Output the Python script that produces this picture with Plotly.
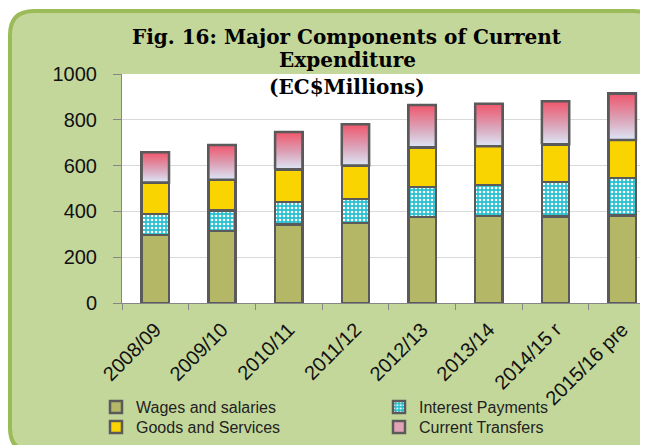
import plotly.graph_objects as go

categories = ["2008/09", "2009/10", "2010/11", "2011/12", "2012/13", "2013/14", "2014/15 r", "2015/16 pre"]
wages = [298, 314, 343, 350, 376, 381, 378, 382]
interest = [91, 89, 99, 105, 130, 135, 151, 163]
goods = [137, 135, 142, 145, 174, 169, 164, 167]
transfers = [132, 152, 163, 181, 185, 185, 188, 202]

# page body has an 8px margin: size the figure so it fits the 648x445 window
OFF = 8
W, H = 648 - OFF, 445 - OFF
ML, MT = 122 - OFF, 74 - OFF
PW, PH = W - ML, 229
MB = H - MT - PH

def fx(px):  # page pixel -> paper x
    return (px - OFF - ML) / PW

def fy(py):  # page pixel -> paper y
    return (MT + PH - (py - OFF)) / PH

x = list(range(len(categories)))
bar_w = 0.41
outline = dict(color="#5a5a5a", width=2.5)
font_sans = "Liberation Sans, Arial, sans-serif"

fig = go.Figure()
fig.add_trace(go.Bar(name="Wages and salaries", x=x, y=wages, width=bar_w, legend="legend",
                     marker=dict(color="#b3b766", line=outline)))
fig.add_trace(go.Bar(name="Interest Payments", x=x, y=interest, width=bar_w, legend="legend",
                     marker=dict(color="#27c0cf", line=outline,
                                 pattern=dict(shape=".", fillmode="replace", bgcolor="#27c0cf",
                                              fgcolor="#ffffff", size=4, solidity=0.35))))
fig.add_trace(go.Bar(name="Goods and Services", x=x, y=goods, width=bar_w, legend="legend2",
                     marker=dict(color="#fad400", line=outline)))
fig.add_trace(go.Bar(name="Current Transfers", x=x, y=transfers, width=bar_w, legend="legend2",
                     marker=dict(color="#e2a3b6", line=outline)))

# gradient overlay for the Current Transfers segments
for i in x:
    base = wages[i] + interest[i] + goods[i]
    top = base + transfers[i]
    fig.add_trace(go.Scatter(
        x=[i - bar_w / 2, i + bar_w / 2, i + bar_w / 2, i - bar_w / 2, i - bar_w / 2],
        y=[base, base, top, top, base],
        mode="lines", fill="toself",
        fillgradient=dict(type="vertical",
                          colorscale=[[0, "#dce6f7"], [0.45, "#dba3b8"], [1, "#f0566c"]]),
        line=outline, showlegend=False, hoverinfo="skip"))

# rounded frame (page pixel positions)
L, T, R, B, r = 10, 11, 657, 452, 24
path = (f"M{fx(L + r)},{fy(T)} L{fx(R - r)},{fy(T)} Q{fx(R)},{fy(T)} {fx(R)},{fy(T + r)} "
        f"L{fx(R)},{fy(B - r)} Q{fx(R)},{fy(B)} {fx(R - r)},{fy(B)} "
        f"L{fx(L + r)},{fy(B)} Q{fx(L)},{fy(B)} {fx(L)},{fy(B - r)} "
        f"L{fx(L)},{fy(T + r)} Q{fx(L)},{fy(T)} {fx(L + r)},{fy(T)} Z")
shapes = [
    dict(type="path", path=path, xref="paper", yref="paper", layer="below",
         fillcolor="#c4d79b", line=dict(color="#9bbb59", width=4)),
    dict(type="rect", xref="paper", yref="paper", x0=0, x1=1, y0=0, y1=1, layer="below",
         fillcolor="#ffffff", line=dict(width=0)),
]

title_font = dict(family="DejaVu Serif, serif", size=20, color="#000000")
annotations = [
    dict(text="<b>Fig. 16: Major Components of Current</b>", x=fx(347), y=fy(37)),
    dict(text="<b>Expenditure</b>", x=fx(347), y=fy(60)),
    dict(text="<b>(EC$Millions)</b>", x=fx(347), y=fy(87)),
]
for a in annotations:
    a.update(xref="paper", yref="paper", xanchor="center", yanchor="middle",
             showarrow=False, font=title_font)

legend_style = dict(orientation="h", xanchor="left", yanchor="middle", entrywidth=238,
                    bgcolor="rgba(0,0,0,0)", traceorder="normal",
                    font=dict(family=font_sans, size=16, color="#222222"))

fig.update_layout(
    width=W, height=H,
    margin=dict(l=ML, r=0, t=MT, b=MB, autoexpand=False),
    barmode="stack",
    paper_bgcolor="#ffffff", plot_bgcolor="rgba(0,0,0,0)",
    shapes=shapes, annotations=annotations,
    showlegend=True,
    legend=dict(x=fx(96), y=fy(407), **legend_style),
    legend2=dict(x=fx(96), y=fy(427), **legend_style),
    xaxis=dict(range=[-0.5, -0.5 + PW / 66.7], tickmode="array", tickvals=x, ticktext=categories,
               tickangle=-45, ticks="", showgrid=False, zeroline=False, ticklabelstandoff=6,
               showline=True, linecolor="#868686", linewidth=1,
               tickfont=dict(family=font_sans, size=20, color="#111111"),
               minor=dict(tickmode="array", tickvals=[i - 0.5 for i in range(len(categories) + 1)],
                          ticks="outside", ticklen=6, tickcolor="#868686", showgrid=False)),
    yaxis=dict(range=[0, 1000], dtick=200, showgrid=True, gridcolor="#d9d9d9", gridwidth=1,
               zeroline=False, showline=True, linecolor="#868686", linewidth=1,
               ticks="outside", ticklen=8, tickcolor="#868686", ticklabelstandoff=12,
               tickfont=dict(family=font_sans, size=20, color="#111111")),
)

fig.write_html("out.html")
